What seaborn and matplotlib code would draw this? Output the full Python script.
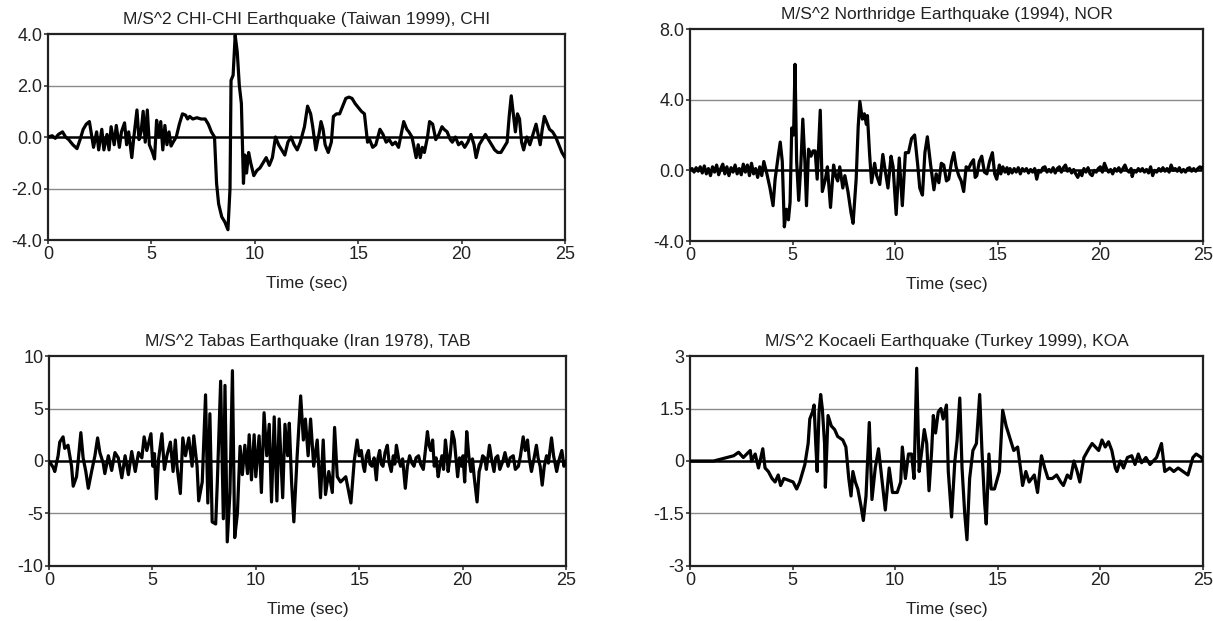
import matplotlib
matplotlib.use("Agg")
import matplotlib.pyplot as plt
import seaborn as sns

# CHI-CHI (Taiwan 1999): time (s) and acceleration (m/s^2)
chi_t = [0.0, 0.2, 0.35, 0.5, 0.7, 0.85, 1.0, 1.2, 1.4, 1.55, 1.7, 1.85, 2.0, 2.1, 2.2, 2.35, 2.45, 2.6,
         2.7, 2.85, 2.95, 3.05, 3.2, 3.3, 3.45, 3.55, 3.7, 3.8, 3.9, 4.05, 4.15, 4.3, 4.4, 4.5, 4.6, 4.7,
         4.8, 4.9, 5.05, 5.15, 5.25, 5.35, 5.45, 5.55, 5.65, 5.75, 5.85, 5.95, 6.05, 6.2, 6.35, 6.5, 6.65,
         6.75, 6.85, 7.0, 7.2, 7.4, 7.6, 7.75, 7.9, 8.05, 8.15, 8.25, 8.4, 8.55, 8.7, 8.8, 8.85, 8.95, 9.05,
         9.15, 9.25, 9.35, 9.45, 9.52, 9.6, 9.7, 9.8, 9.95, 10.1, 10.25, 10.4, 10.55, 10.7, 10.85, 11.0,
         11.15, 11.3, 11.45, 11.6, 11.75, 11.9, 12.05, 12.2, 12.4, 12.55, 12.7, 12.8, 12.95, 13.1, 13.2,
         13.3, 13.4, 13.55, 13.7, 13.8, 13.95, 14.1, 14.25, 14.4, 14.55, 14.7, 14.85, 15.0, 15.15, 15.3,
         15.45, 15.55, 15.7, 15.85, 16.05, 16.2, 16.35, 16.5, 16.65, 16.8, 16.95, 17.1, 17.2, 17.35, 17.45,
         17.6, 17.7, 17.8, 17.9, 18.0, 18.1, 18.2, 18.35, 18.45, 18.6, 18.75, 18.9, 19.05, 19.15, 19.3,
         19.45, 19.55, 19.7, 19.85, 20.0, 20.15, 20.3, 20.45, 20.6, 20.7, 20.85, 21.0, 21.15, 21.3, 21.45,
         21.6, 21.75, 21.9, 22.05, 22.2, 22.3, 22.4, 22.5, 22.6, 22.7, 22.8, 22.9, 23.0, 23.15, 23.3, 23.45,
         23.6, 23.7, 23.8, 23.9, 24.0, 24.1, 24.25, 24.4, 24.55, 24.7, 24.85, 25.0]
chi_a = [0.0, 0.05, -0.05, 0.1, 0.2, 0.0, -0.1, -0.3, -0.45, -0.1, 0.3, 0.5, 0.6, 0.1, -0.4, 0.2, -0.5, 0.3,
         -0.5, 0.1, -0.5, 0.4, -0.3, 0.45, -0.4, 0.2, 0.55, -0.3, 0.2, -0.8, 0.0, 1.05, -0.1, 0.2, 1.0, -0.2,
         1.05, -0.3, -0.6, -0.85, 0.65, 0.0, 0.6, -0.5, 0.45, -0.3, 0.2, -0.35, -0.2, 0.0, 0.5, 0.9, 0.85,
         0.7, 0.8, 0.7, 0.75, 0.7, 0.7, 0.5, 0.2, 0.0, -1.8, -2.6, -3.1, -3.3, -3.6, -2.0, 2.2, 2.4, 3.95,
         3.3, 2.0, 1.3, -1.8, -0.7, -1.4, -0.6, -1.0, -1.5, -1.3, -1.2, -1.0, -0.8, -1.1, -0.8, 0.0,
         -0.3, -0.5, -0.7, -0.2, 0.0, -0.3, -0.5, -0.2, 0.4, 1.2, 0.9, 0.4, -0.5, 0.1, 0.6,
         0.3, -0.3, -0.6, -0.2, 0.8, 0.9, 0.9, 1.2, 1.5, 1.55, 1.5, 1.3, 1.15, 1.0, 0.9,
         -0.2, -0.1, -0.4, -0.3, 0.3, 0.1, -0.2, -0.1, -0.3, -0.2, -0.4, 0.2, 0.6, 0.3, 0.2,
         0.0, -0.4, -0.8, -0.3, -0.8, -0.4, -0.6, 0.0, 0.6, 0.5, -0.1, 0.1, 0.4, 0.3, 0.2,
         -0.1, -0.2, 0.0, -0.3, -0.2, -0.4, -0.2, 0.1, -0.3, -0.8, -0.3, -0.1, 0.1, -0.1, -0.3,
         -0.5, -0.6, -0.6, -0.4, -0.2, 0.8, 1.6, 0.9, 0.2, 0.9, 0.7, -0.2, -0.5, 0.0, -0.3, 0.1,
         0.5, 0.1, -0.3, 0.3, 0.8, 0.6, 0.3, 0.2, 0.0, -0.3, -0.6, -0.8]

# Northridge (1994)
nor_t = [0.0, 0.1, 0.2, 0.3, 0.4, 0.5, 0.6, 0.7, 0.8, 0.9, 1.0, 1.1, 1.2, 1.3, 1.4, 1.5, 1.6, 1.7, 1.8,
         1.9, 2.0, 2.1, 2.2, 2.3, 2.4, 2.5, 2.6, 2.7, 2.8, 2.9, 3.0, 3.1, 3.2, 3.3, 3.4, 3.5, 3.6, 3.75,
         3.9, 4.05, 4.15, 4.3, 4.4, 4.5, 4.6, 4.7, 4.8, 4.88, 4.96, 5.05, 5.12, 5.2, 5.3, 5.4, 5.5, 5.6,
         5.68, 5.78, 5.9, 6.0, 6.1, 6.2, 6.35, 6.45, 6.6, 6.7, 6.85, 7.0, 7.1, 7.2, 7.3, 7.45, 7.55, 7.7,
         7.85, 7.95, 8.1, 8.2, 8.28, 8.4, 8.5, 8.6, 8.65, 8.75, 8.85, 9.0, 9.1, 9.25, 9.4, 9.5, 9.65, 9.8,
         9.9, 10.05, 10.2, 10.35, 10.5, 10.65, 10.8, 10.95, 11.1, 11.2, 11.33, 11.45, 11.57, 11.73, 11.89,
         12.0, 12.13, 12.25, 12.37, 12.5, 12.61, 12.75, 12.86, 12.97, 13.1, 13.22, 13.34, 13.46, 13.58,
         13.7, 13.82, 13.9, 13.98, 14.1, 14.22, 14.35, 14.47, 14.6, 14.74, 14.85, 14.95,
         15.08, 15.15, 15.25, 15.35, 15.45, 15.52, 15.6, 15.7, 15.8, 15.9, 16.0, 16.1, 16.2, 16.3, 16.4,
         16.5, 16.6, 16.7, 16.8, 16.9, 17.0, 17.1, 17.2, 17.3, 17.4, 17.5, 17.6, 17.7, 17.8, 17.9, 18.0,
         18.1, 18.2, 18.3, 18.4, 18.5, 18.6, 18.7, 18.8, 18.9, 19.0, 19.1, 19.2, 19.3, 19.4, 19.5, 19.6,
         19.7, 19.8, 19.9, 20.0, 20.1, 20.2, 20.3, 20.4, 20.5, 20.6, 20.7, 20.8, 20.9, 21.0, 21.1, 21.2,
         21.3, 21.4, 21.5, 21.55, 21.65, 21.75, 21.85, 21.95, 22.05, 22.15, 22.25, 22.35, 22.45, 22.55,
         22.65, 22.75, 22.85, 22.95, 23.05, 23.15, 23.25, 23.35, 23.45, 23.55, 23.65, 23.75, 23.85,
         23.95, 24.05, 24.15, 24.25, 24.35, 24.45, 24.55, 24.65, 24.75, 24.85, 24.95, 25.0]
nor_a = [0.0, 0.1, -0.1, 0.15, -0.05, 0.2, -0.15, 0.25, -0.2, 0.1, -0.3, 0.2, -0.1, 0.3, -0.25, 0.1, 0.35,
         -0.2, 0.2, -0.3, 0.15, -0.1, 0.3, -0.2, 0.1, -0.25, 0.35, -0.1, 0.3, -0.3, 0.4, -0.2, 0.1, -0.4,
         0.2, -0.3, 0.5, -0.2, -1.0, -2.0, -0.5, 0.8, 1.6, 0.5, -3.2, -2.2, -2.8, -1.8, 2.4, 2.0, 6.0, 0.5,
         -1.7, 0.2, 2.9, 0.5, -2.0, 1.2, 0.8, 1.1, 1.1, -0.5, 3.4, -1.2, -0.5, 0.2, -2.1, 0.3, -0.3, -0.6,
         0.2, -1.0, -0.3, -1.2, -2.4, -3.0, -0.5, 2.5, 3.9, 2.9, 3.2, 2.6, 3.1, 1.0, -0.7, 0.4, -0.3, -0.8,
         0.9, 0.1, -1.0, 0.8, 0.2, -2.5, 0.7, -2.0, 1.0, 1.0, 1.8, 2.0, 0.3, -1.0, -1.4, 1.0, 1.9, 0.3,
         -1.1, -0.2, -0.7, 0.4, 0.3, -0.6, -0.5, 0.5, 1.0, 0.2, -0.3, -0.6, -1.2, 0.2, 0.1, 0.4, 0.6,
         -0.4, -0.3, 0.5, 0.8, -0.1, -0.2, 0.5, 1.0, -0.2, -0.5,
         0.3, -0.2, 0.2, -0.1, 0.15, -0.2, 0.1, -0.15, 0.1, -0.1, 0.15, -0.2, 0.1, -0.05, 0.1,
         -0.15, 0.05, -0.1, 0.1, -0.5, 0.0, -0.1, 0.15, 0.2, -0.1, 0.05, -0.1, 0.15, -0.15, 0.1, 0.2,
         -0.1, 0.15, 0.3, -0.05, 0.1, -0.15, 0.05, -0.2, -0.4, -0.1, -0.3, 0.1, -0.1, 0.15, -0.2, -0.3,
         0.0, -0.1, 0.1, 0.2, -0.1, 0.4, 0.1, -0.1, 0.05, -0.2, 0.1, -0.05, 0.15, -0.1, 0.1, 0.3,
         0.0, -0.1, 0.1, -0.35, 0.0, -0.1, 0.1, -0.05, 0.1, -0.1, 0.05, -0.15, 0.2, -0.3,
         0.0, -0.1, 0.1, -0.05, 0.15, -0.05, 0.1, -0.1, 0.3, 0.0, 0.1, -0.05, 0.15,
         -0.1, 0.05, -0.1, 0.1, 0.15, -0.05, 0.1, -0.05, 0.1, 0.2, 0.1, 0.2]

# Tabas (Iran 1978)
tab_t = [0.0, 0.2, 0.28, 0.44, 0.52, 0.68, 0.76, 0.92, 1.09, 1.17, 1.33, 1.41, 1.54, 1.65, 1.78, 1.9,
         2.06, 2.22, 2.35, 2.46, 2.62, 2.7, 2.87, 3.03, 3.19, 3.35, 3.52, 3.68, 3.84, 4.0, 4.17, 4.33,
         4.49, 4.6, 4.73, 4.93, 5.02, 5.1, 5.19, 5.3, 5.46, 5.58, 5.7, 5.87, 6.0, 6.11, 6.19, 6.35, 6.47,
         6.6, 6.76, 6.92, 7.0, 7.16, 7.24, 7.41, 7.57, 7.68, 7.78, 7.89, 8.06, 8.14, 8.3, 8.43, 8.51,
         8.62, 8.75, 8.87, 8.98, 9.11, 9.24, 9.35, 9.47, 9.6, 9.68, 9.79, 9.92, 10.0, 10.16, 10.27, 10.4,
         10.53, 10.65, 10.76, 10.89, 11.02, 11.13, 11.3, 11.41, 11.54, 11.62, 11.73, 11.84, 12.0, 12.17,
         12.3, 12.4, 12.53, 12.65, 12.8, 12.97, 13.13, 13.26, 13.37, 13.53, 13.7, 13.81, 13.94, 14.1,
         14.35, 14.6, 14.76,
         14.9, 15.0, 15.1, 15.2, 15.26, 15.35, 15.45, 15.52, 15.62, 15.72, 15.83, 15.9, 15.99, 16.07,
         16.15, 16.25, 16.36, 16.45, 16.55, 16.65, 16.72, 16.8, 16.9, 17.0, 17.1, 17.23, 17.33, 17.44,
         17.55, 17.65, 17.75, 17.87, 17.97, 18.1, 18.2, 18.3, 18.38, 18.46, 18.55, 18.63, 18.72, 18.82,
         18.9, 19.0, 19.08, 19.17, 19.25, 19.3, 19.4, 19.5, 19.6, 19.68, 19.76, 19.85, 19.95, 20.02,
         20.1, 20.2, 20.3, 20.4, 20.48, 20.56, 20.7, 20.8, 20.87, 20.97, 21.07, 21.15, 21.3, 21.4, 21.52,
         21.6, 21.7, 21.8, 21.95, 22.05, 22.2, 22.3, 22.45, 22.55, 22.7, 22.8, 22.93, 23.03, 23.14,
         23.22, 23.33, 23.45, 23.57, 23.65, 23.75, 23.85, 23.95, 24.06, 24.15, 24.3, 24.4, 24.55, 24.65,
         24.8, 24.9, 25.0]
tab_a = [0.0, -0.6, -1.0, 0.5, 1.8, 2.3, 1.2, 1.5, -0.5, -2.4, -1.5, 0.0, 2.7, 0.3, -1.0, -2.6,
         -1.0, 0.5, 2.2, 0.8, -0.2, -1.2, 0.5, -0.9, 0.8, 0.3, -1.6, 0.5, -1.3, 0.9, -1.0, 0.8,
         0.3, 2.3, 1.0, 2.6, -0.5, 0.7, -3.6, 0.2, 2.6, -0.8, 0.5, 1.8, -1.0, 2.0, -0.5, -3.1, 2.2,
         0.5, 2.2, -0.5, 2.4, -0.5, -3.8, -2.0, 6.3, -4.0, 4.5, -5.8, -6.0, -2.0, 7.6, -5.5, 7.2,
         -7.7, -3.0, 8.6, -7.3, -5.0, 1.4, -1.3, 1.5, -1.2, 2.5, -1.8, 2.5, -1.5, 2.4, -3.0, 4.6,
         0.5, 3.5, -3.9, 4.2, -3.8, 4.0, -3.5, 3.5, 0.5, 3.6, -2.0, -5.8, 0.5, 6.2,
         2.0, 4.0, 0.5, 4.0, -0.5, 2.0, -3.5, 2.0, -3.2, -1.0, -3.0, 3.2, -1.5, -2.0,
         -1.5, -4.0, 0.0,
         2.0, 0.5, 1.0, -0.5, -1.0, 0.5, 1.0, -0.3, -0.5, 0.3, -1.8, 0.2, 1.0, -0.3,
         -0.5, 0.8, 1.5, -0.2, -1.0, 0.5, -0.3, 1.5, 0.3, -0.5, 0.2, -2.6, -0.5, 0.5,
         -0.2, -0.5, 0.3, 0.5, -0.3, -0.8, 1.0, 2.8, 1.5, 1.0, 2.0, -0.5, 0.3, -1.5,
         -0.5, 0.5, -0.8, 2.0, 0.5, -1.0, 0.5, 2.8, 2.0, 0.2, -1.5, 0.3, -0.5, 0.5,
         -2.0, 2.8, 0.5, -1.0, 0.2, -1.5, -3.9, -1.0, -0.5, 0.5, 0.3, -0.8, 1.5, 0.2, -1.0,
         0.3, 0.5, -0.8, 0.0, 0.8, -0.5, 0.3, 0.5, -0.8, -0.5, 0.5, 2.3, 1.0, 2.0,
         0.3, -1.0, 0.2, 1.5, 0.3, -0.5, -2.3, -0.5, 0.5, -0.2, 2.2, 0.5, -1.0, 0.0,
         1.0, -0.5, 0.0]

# Kocaeli (Turkey 1999)
koa_t = [0.0, 1.16, 1.48, 1.8, 2.13, 2.37, 2.6, 2.77, 2.94, 3.0, 3.18, 3.34, 3.55, 3.66, 3.82, 4.0,
         4.15, 4.3, 4.42, 4.58, 4.8, 5.03, 5.2, 5.35, 5.6, 5.76, 5.84, 5.97, 6.05, 6.13, 6.2, 6.29, 6.37,
         6.45, 6.56, 6.6, 6.73, 6.89, 7.05, 7.2, 7.45, 7.6, 7.74, 7.85, 7.94, 8.06, 8.18, 8.34, 8.45,
         8.58, 8.74, 8.87, 9.03, 9.19, 9.35, 9.52, 9.71, 9.87, 10.1, 10.27, 10.35, 10.5, 10.65, 10.8,
         10.92, 11.05, 11.17, 11.3, 11.42, 11.54, 11.65, 11.78, 11.86, 11.97, 12.1, 12.23, 12.34, 12.5,
         12.59, 12.75, 12.91, 13.02, 13.15, 13.26, 13.39, 13.5, 13.63, 13.79, 13.96, 14.12, 14.23,
         14.36, 14.44, 14.57, 14.68, 14.84, 15.08, 15.24, 15.41, 15.57, 15.78, 15.97, 16.13, 16.21,
         16.37, 16.53, 16.78, 16.94, 17.13, 17.29, 17.45, 17.66, 17.87, 18.07, 18.2, 18.39, 18.55,
         18.71, 18.87, 19.0, 19.2, 19.44, 19.6, 19.76, 19.92, 20.08, 20.24, 20.4, 20.56, 20.73, 20.81,
         20.97, 21.13, 21.32, 21.53, 21.69, 21.85, 22.01, 22.22, 22.42, 22.74, 22.98, 23.14, 23.38,
         23.58, 23.79, 24.03, 24.27, 24.51, 24.67, 24.92, 25.0]
koa_a = [0.0, 0.0, 0.05, 0.1, 0.15, 0.25, 0.1, 0.2, 0.3, 0.0, 0.2, -0.2, 0.35, -0.2, -0.3, -0.5,
         -0.6, -0.4, -0.7, -0.5, -0.55, -0.6, -0.8, -0.6, -0.1, 0.5, 1.2, 1.4, 1.6, 0.5, -0.3, 1.4, 1.9,
         1.5, 0.5, -0.75, 1.3, 1.0, 0.9, 0.7, 0.6, 0.4, -0.5, -1.0, -0.3, -0.6, -0.8, -1.3, -1.7,
         -1.0, 1.1, -1.1, -0.2, 0.35, -0.5, -1.4, -0.2, -0.9, -0.9, -0.6, 0.4, -0.5, 0.2, 0.2,
         -0.5, 2.65, -0.3, 0.3, 0.9, 0.5, -0.85, 0.3, 1.3, 0.8, 1.4, 1.5, 1.2, 1.6,
         -0.3, -1.6, 0.0, 0.6, 1.8, -0.2, -1.5, -2.25, -0.5, 0.3, 0.5, 1.9, 0.3,
         -1.2, -1.8, 0.2, -0.8, -0.8, -0.3, 1.45, 1.0, 0.7, 0.3, 0.4, -0.3, -0.7,
         -0.3, -0.6, -0.4, -0.9, 0.15, -0.2, -0.5, -0.5, -0.4, -0.6, -0.7, -0.4, -0.5,
         0.0, -0.3, -0.6, 0.1, 0.35, 0.5, 0.4, 0.3, 0.6, 0.4, 0.55, 0.3, -0.2, -0.3,
         0.0, -0.2, 0.1, 0.15, -0.1, 0.2, -0.05, 0.1, -0.1, 0.1, 0.5, -0.3, -0.2,
         -0.3, -0.2, -0.3, -0.4, 0.1, 0.2, 0.1, 0.0]

titles = ["M/S^2 CHI-CHI Earthquake (Taiwan 1999), CHI",
          "M/S^2 Northridge Earthquake (1994), NOR",
          "M/S^2 Tabas Earthquake (Iran 1978), TAB",
          "M/S^2 Kocaeli Earthquake (Turkey 1999), KOA"]
yticks = [[-4, -2, 0, 2, 4], [-4, 0, 4, 8], [-10, -5, 0, 5, 10], [-3, -1.5, 0, 1.5, 3]]
ylabels = [["-4.0", "-2.0", "0.0", "2.0", "4.0"], ["-4.0", "0.0", "4.0", "8.0"],
           ["-10", "-5", "0", "5", "10"], ["-3", "-1.5", "0", "1.5", "3"]]
xticks = [0, 5, 10, 15, 20, 25]

sns.set_theme(style="white")
plt.rcParams['font.family'] = ['Liberation Sans', 'DejaVu Sans']

fig = plt.figure(figsize=(12.13, 6.21), dpi=100)
boxes = [[0.0396, 0.6135, 0.4262, 0.3317],
         [0.5688, 0.6119, 0.4229, 0.3414],
         [0.0404, 0.0886, 0.4262, 0.3381],
         [0.5688, 0.0886, 0.4229, 0.3381]]
series = [(chi_t, chi_a), (nor_t, nor_a), (tab_t, tab_a), (koa_t, koa_a)]

for i, (t, a) in enumerate(series):
    assert len(t) == len(a), (i, len(t), len(a))
    ax = fig.add_axes(boxes[i])
    yt = yticks[i]
    for g in yt[1:-1]:
        if g != 0:
            ax.axhline(g, color='#8a8a8a', lw=1.0, zorder=1)
    ax.axhline(0, color='black', lw=1.8, zorder=2)
    sns.lineplot(x=t, y=a, ax=ax, color='black', lw=2.3, estimator=None, sort=False, zorder=3)
    ax.set_xlim(0, 25)
    ax.set_ylim(yt[0], yt[-1])
    ax.set_xticks(xticks)
    ax.set_xticklabels([str(x) for x in xticks], fontsize=13)
    ax.set_yticks(yt)
    ax.set_yticklabels(ylabels[i], fontsize=13)
    ax.tick_params(axis='both', direction='out', length=3, width=1.2, color='#333333', pad=1,
                   bottom=True, left=True, labelcolor='#222222')
    for s in ax.spines.values():
        s.set_color('#222222')
        s.set_linewidth(1.6)
    ax.set_title(titles[i], fontsize=12.5, pad=7, color='#222222')
    ax.set_xlabel("Time (sec)", fontsize=12.5, labelpad=10, color='#222222')
    ax.set_ylabel("")

plt.savefig("out.png", dpi=100)
